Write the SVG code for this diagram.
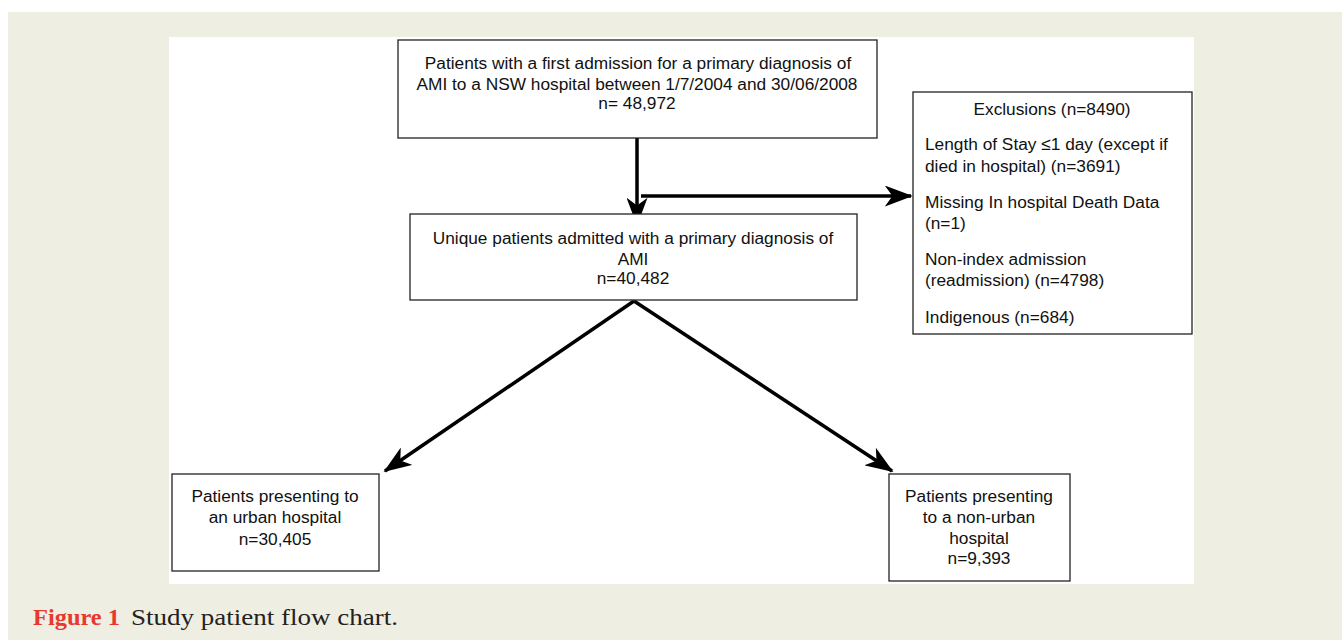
<svg xmlns="http://www.w3.org/2000/svg" width="1342" height="640" viewBox="0 0 1342 640">
<style>
.box{fill:#fff;stroke:#222;stroke-width:1.3}
.t{font-family:"Liberation Sans",Arial,sans-serif;font-size:17.3px;fill:#111}
.c{text-anchor:middle}
.ar{fill:none;stroke:#000;stroke-width:3.5}
.cap{font-family:"Liberation Serif","Times New Roman",serif;font-size:24px}
</style>
<defs>
<marker id="ah" markerWidth="8" markerHeight="6" refX="7.5" refY="3" orient="auto" markerUnits="strokeWidth">
<path d="M0,0 L8,3 L0,6 L2.2,3 z" fill="#000"/>
</marker>
</defs>
<rect x="0" y="0" width="1342" height="640" fill="#fff"/>
<rect x="8" y="12" width="1334" height="628" fill="#efeee3"/>
<rect x="169" y="37" width="1025" height="547" fill="#fff"/>
<g id="connectors">
<line class="ar" x1="637" y1="138" x2="637" y2="224" marker-end="url(#ah)"/>
<line class="ar" x1="641" y1="196" x2="911" y2="196" marker-end="url(#ah)"/>
<line class="ar" x1="634" y1="301" x2="385" y2="471" marker-end="url(#ah)"/>
<line class="ar" x1="634" y1="301" x2="892" y2="471" marker-end="url(#ah)"/>
</g>
<g id="n1">
<rect class="box" x="398" y="40" width="479" height="98"/>
<text class="t c" x="638" y="69">Patients with a first admission for a primary diagnosis of</text>
<text class="t c" x="637" y="90">AMI  to a NSW hospital between 1/7/2004 and 30/06/2008</text>
<text class="t c" x="637" y="109">n= 48,972</text>
</g>
<g id="n2">
<rect class="box" x="410" y="214" width="447" height="86"/>
<text class="t c" x="633" y="244">Unique  patients admitted with a primary diagnosis of</text>
<text class="t c" x="633" y="265">AMI</text>
<text class="t c" x="633" y="284">n=40,482</text>
</g>
<g id="n3">
<rect class="box" x="913" y="92" width="279" height="242"/>
<text class="t c" x="1052" y="115">Exclusions (n=8490)</text>
<text class="t" x="925" y="150">Length of Stay ≤1 day (except if</text>
<text class="t" x="925" y="172">died in hospital) (n=3691)</text>
<text class="t" x="925" y="208">Missing In hospital Death Data</text>
<text class="t" x="925" y="229">(n=1)</text>
<text class="t" x="925" y="265">Non-index admission</text>
<text class="t" x="925" y="286">(readmission) (n=4798)</text>
<text class="t" x="925" y="323">Indigenous  (n=684)</text>
</g>
<g id="n4">
<rect class="box" x="172" y="474" width="207" height="97"/>
<text class="t c" x="275" y="502">Patients presenting to</text>
<text class="t c" x="275" y="523">an urban hospital</text>
<text class="t c" x="275" y="545">n=30,405</text>
</g>
<g id="n5">
<rect class="box" x="889" y="474" width="181" height="107"/>
<text class="t c" x="979" y="502">Patients presenting</text>
<text class="t c" x="979" y="523">to a non-urban</text>
<text class="t c" x="979" y="544">hospital</text>
<text class="t c" x="979" y="564">n=9,393</text>
</g>
<g id="caption">
<text class="cap" x="33" y="625" fill="#e8392f" font-weight="bold" textLength="87" lengthAdjust="spacingAndGlyphs">Figure 1</text>
<text class="cap" x="131" y="625" fill="#222" textLength="267" lengthAdjust="spacingAndGlyphs">Study patient flow chart.</text>
</g>
</svg>
